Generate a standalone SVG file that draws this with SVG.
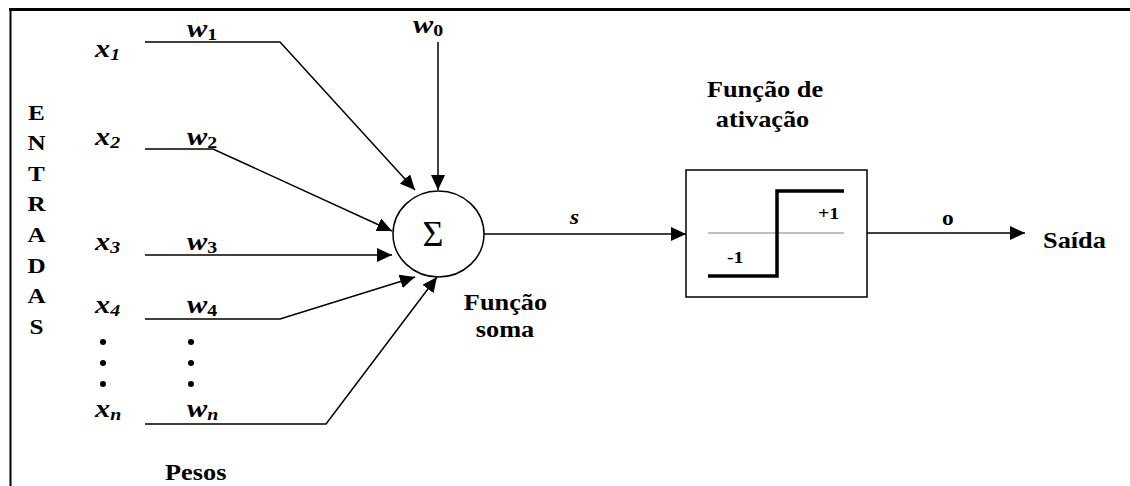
<svg xmlns="http://www.w3.org/2000/svg" width="1130" height="486" viewBox="0 0 1130 486">
<style>
.t{font-family:"Liberation Serif","Times New Roman",serif;font-weight:bold;fill:#000}
.big{font-size:22.5px}
.let{font-size:21.5px}
.var{font-size:26px;font-style:italic}
.sub{font-size:17px}
.up{font-style:normal}
.sm{font-size:17px}
.ln{stroke:#000;stroke-width:1.5;fill:none}
</style>
<defs>
<marker id="ah" viewBox="0 0 15 14" refX="15" refY="7" markerWidth="15" markerHeight="14" markerUnits="userSpaceOnUse" orient="auto">
<path d="M0,0 L15,7 L0,14 Z" fill="#000"/>
</marker>
</defs>
<rect width="1130" height="486" fill="#fff"/>
<g id="frame">
<line x1="9" y1="9.5" x2="1130" y2="9.5" stroke="#000" stroke-width="3"/>
<line x1="10.5" y1="8" x2="10.5" y2="486" stroke="#000" stroke-width="2"/>
</g>
<g id="entradas" class="t let" text-anchor="middle">
<text transform="translate(36.5,120) scale(1.17,1)">E</text>
<text transform="translate(36.5,150) scale(1.17,1)">N</text>
<text transform="translate(36.5,181) scale(1.17,1)">T</text>
<text transform="translate(36.5,211) scale(1.17,1)">R</text>
<text transform="translate(36.5,242) scale(1.17,1)">A</text>
<text transform="translate(36.5,273) scale(1.17,1)">D</text>
<text transform="translate(36.5,303) scale(1.17,1)">A</text>
<text transform="translate(36.5,334) scale(1.17,1)">S</text>
</g>
<g id="inputs" class="t var">
<text transform="translate(95,57) scale(1.17,1)">x<tspan class="sub" dy="3">1</tspan></text>
<text transform="translate(95,145) scale(1.17,1)">x<tspan class="sub" dy="3">2</tspan></text>
<text transform="translate(95,250) scale(1.17,1)">x<tspan class="sub" dy="3">3</tspan></text>
<text transform="translate(95,313) scale(1.17,1)">x<tspan class="sub" dy="3">4</tspan></text>
<text transform="translate(95,417) scale(1.17,1)">x<tspan class="sub" dy="3">n</tspan></text>
</g>
<g id="weights" class="t var">
<text transform="translate(413,33) scale(1.17,1)">w<tspan class="sub up" dy="3">0</tspan></text>
<text transform="translate(187,37) scale(1.17,1)">w<tspan class="sub up" dy="3">1</tspan></text>
<text transform="translate(187,145) scale(1.17,1)">w<tspan class="sub up" dy="3">2</tspan></text>
<text transform="translate(187,250) scale(1.17,1)">w<tspan class="sub up" dy="3">3</tspan></text>
<text transform="translate(187,313) scale(1.17,1)">w<tspan class="sub up" dy="3">4</tspan></text>
<text transform="translate(187,417) scale(1.17,1)">w<tspan class="sub" dy="3">n</tspan></text>
</g>
<g id="dots" fill="#000">
<circle cx="103" cy="342" r="3"/><circle cx="103" cy="363" r="3"/><circle cx="103" cy="384" r="3"/>
<circle cx="191" cy="342" r="3"/><circle cx="191" cy="363" r="3"/><circle cx="191" cy="384" r="3"/>
</g>
<g id="pesos" class="t big"><text transform="translate(165,480) scale(1.17,1)">Pesos</text></g>
<g id="connectors" class="ln">
<polyline points="145,42 280,42 415,190" marker-end="url(#ah)"/>
<line x1="438" y1="42" x2="438" y2="190" marker-end="url(#ah)"/>
<polyline points="145,149 213,149 392,231" marker-end="url(#ah)"/>
<line x1="145" y1="255" x2="392" y2="255" marker-end="url(#ah)"/>
<polyline points="145,319 280,319 415,277" marker-end="url(#ah)"/>
<polyline points="145,424 326,424 437,277" marker-end="url(#ah)"/>
<line x1="484" y1="234" x2="686" y2="234" marker-end="url(#ah)"/>
<line x1="867" y1="233" x2="1025" y2="233" marker-end="url(#ah)"/>
</g>
<g id="soma">
<ellipse cx="438.5" cy="234" rx="45.5" ry="43" fill="#fff" stroke="#000" stroke-width="1.5"/>
<text x="433" y="246" text-anchor="middle" font-family="'Liberation Serif','Times New Roman',serif" font-size="36">Σ</text>
<g class="t big" text-anchor="middle">
<text transform="translate(505.5,310) scale(1.17,1)">Função</text>
<text transform="translate(505,337) scale(1.17,1)">soma</text>
</g>
</g>
<g id="signal-labels" class="t">
<text class="var" style="font-size:20px" transform="translate(570,224) scale(1.17,1)">s</text>
<text style="font-size:20px" transform="translate(942,225) scale(1.17,1)">o</text>
</g>
<g id="ativacao">
<g class="t big" text-anchor="middle">
<text transform="translate(765,97) scale(1.17,1)">Função de</text>
<text transform="translate(762.5,127) scale(1.17,1)">ativação</text>
</g>
<rect x="686" y="170" width="181" height="127" fill="#fff" stroke="#000" stroke-width="1.5"/>
<line x1="708" y1="233" x2="844" y2="233" stroke="#808080" stroke-width="1"/>
<polyline points="708,276 777,276 777,191 844,191" fill="none" stroke="#000" stroke-width="3.5"/>
<text class="t sm" transform="translate(818,219) scale(1.17,1)">+1</text>
<text class="t sm" transform="translate(727,263) scale(1.17,1)">-1</text>
</g>
<g id="saida" class="t big"><text transform="translate(1043,248) scale(1.17,1)">Saída</text></g>
</svg>
